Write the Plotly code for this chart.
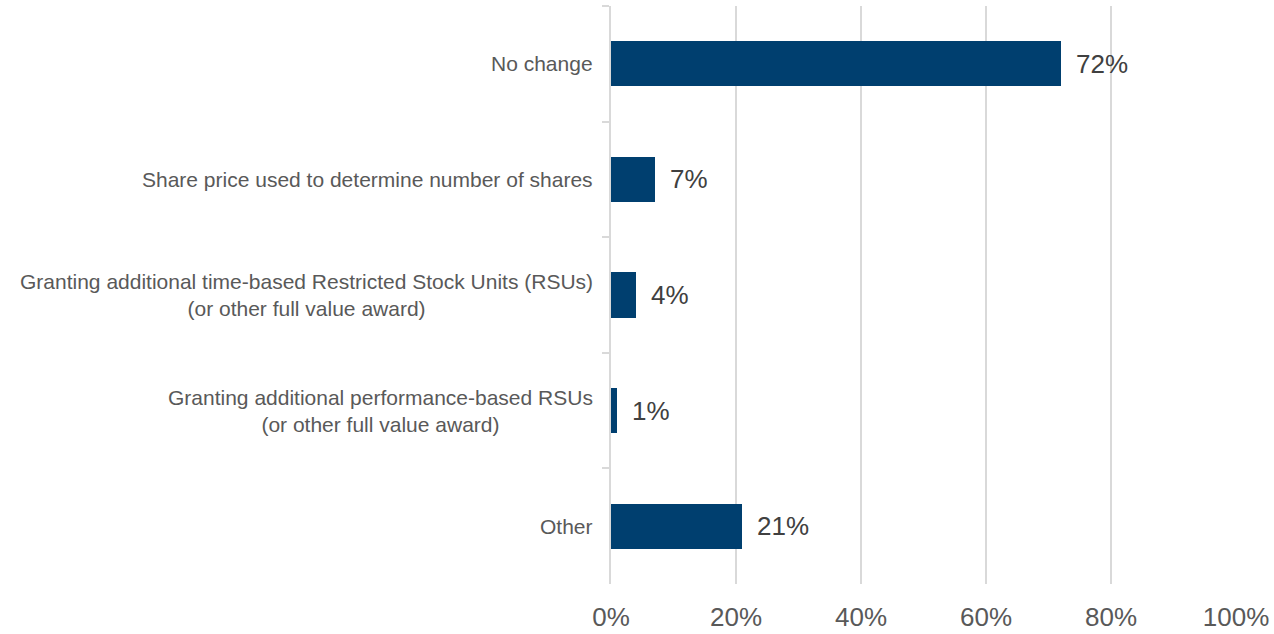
import plotly.graph_objects as go

# Survey responses: change in how equity grants were sized
categories = [
    "No change",
    "Share price used to determine number of shares",
    "Granting additional time-based Restricted Stock Units (RSUs)<br>(or other full value award)",
    "Granting additional performance-based RSUs<br>(or other full value award)",
    "Other",
]
values = [72, 7, 4, 1, 21]
x_ticks = [0, 20, 40, 60, 80, 100]
x_tick_labels = ["0%", "20%", "40%", "60%", "80%", "100%"]

BAR = "#003f6f"
GRID = "#d9d9d9"
LABEL = "#595959"
VALUE = "#404040"
FONT = "Liberation Sans, Arial, sans-serif"

fig = go.Figure(
    go.Bar(
        x=values,
        y=categories,
        orientation="h",
        width=0.39,
        marker=dict(color=BAR, line=dict(width=0)),
        hoverinfo="skip",
    )
)

annotations = []
for cat, val in zip(categories, values):
    # category label, right-aligned against the axis, lines centred
    annotations.append(dict(
        xref="paper", yref="y", x=0, y=cat, xanchor="right", yanchor="middle",
        xshift=-16, text=cat, showarrow=False, align="center",
        font=dict(family=FONT, size=21, color=LABEL),
    ))
    # value label just past the bar end
    annotations.append(dict(
        xref="x", yref="y", x=val, y=cat, xanchor="left", yanchor="middle",
        xshift=13, text=f"{val}%", showarrow=False,
        font=dict(family=FONT, size=26, color=VALUE),
    ))

fig.update_layout(
    width=1274,
    height=634,
    margin=dict(l=611, r=38, t=6, b=50, autoexpand=False),
    paper_bgcolor="white",
    plot_bgcolor="white",
    showlegend=False,
    bargap=0,
    annotations=annotations,
    font=dict(family=FONT),
)

fig.update_xaxes(
    range=[0, 100],
    tickvals=x_ticks,
    ticktext=x_tick_labels,
    showgrid=True,
    gridcolor=GRID,
    gridwidth=1.5,
    zeroline=False,
    showline=False,
    ticks="",
    automargin=False,
    ticklabelstandoff=15,
    tickfont=dict(family=FONT, size=26, color=LABEL),
    fixedrange=True,
)

fig.update_yaxes(
    type="category",
    categoryorder="array",
    categoryarray=categories,
    autorange="reversed",
    showticklabels=False,
    showgrid=False,
    zeroline=False,
    showline=True,
    linecolor=GRID,
    linewidth=1.5,
    ticks="outside",
    tickson="boundaries",
    ticklen=7,
    tickcolor=GRID,
    tickwidth=1.5,
    automargin=False,
    fixedrange=True,
)

fig.write_html("out.html")
